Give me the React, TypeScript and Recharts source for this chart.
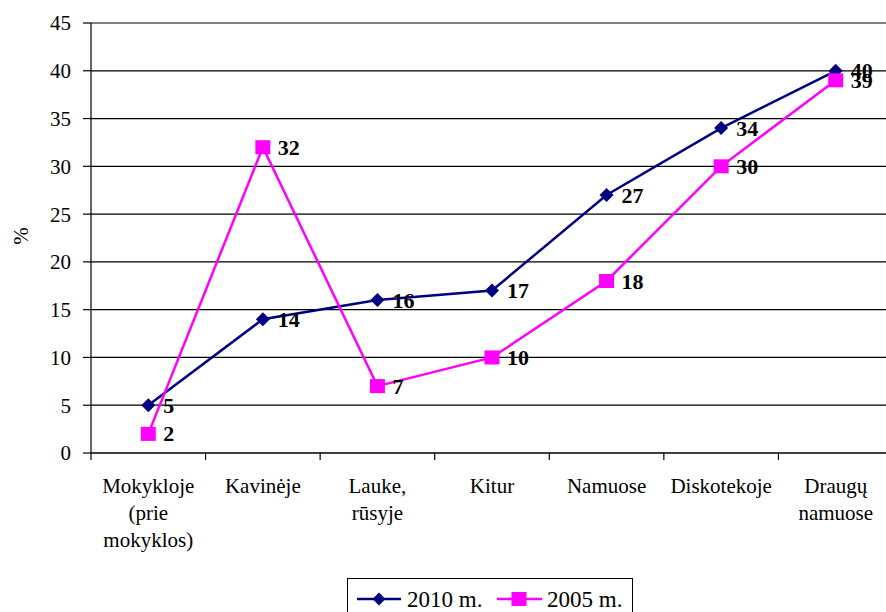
import { CartesianGrid, LabelList, Line, LineChart, XAxis, YAxis } from "recharts";

const categories = [
  "Mokykloje\n(prie\nmokyklos)",
  "Kavinėje",
  "Lauke,\nrūsyje",
  "Kitur",
  "Namuose",
  "Diskotekoje",
  "Draugų\nnamuose",
];
const values2010 = [5, 14, 16, 17, 27, 34, 40];
const values2005 = [2, 32, 7, 10, 18, 30, 39];
const yTicks = [0, 5, 10, 15, 20, 25, 30, 35, 40, 45];

const data = categories.map((cat, i) => ({ cat, y2010: values2010[i], y2005: values2005[i] }));

const NAVY = "#000080";
const MAGENTA = "#FF00FF";
const FONT = "Liberation Serif";

const CHART_W = 900;
const CHART_H = 612;
const MARGIN = { top: 23, right: 7, bottom: 0, left: 0 };
const Y_AXIS_W = 91;
const PLOT_W = CHART_W - MARGIN.right - MARGIN.left - Y_AXIS_W;

function Diamond({ cx, cy, r = 7 }: { cx: number; cy: number; r?: number }) {
  return <path d={`M${cx},${cy - r}L${cx + r},${cy}L${cx},${cy + r}L${cx - r},${cy}Z`} fill={NAVY} />;
}

function Square({ cx, cy, w = 15, h = 14 }: { cx: number; cy: number; w?: number; h?: number }) {
  return <rect x={cx - w / 2} y={cy - h / 2} width={w} height={h} fill={MAGENTA} />;
}

function CategoryTick(props: any) {
  const { x, y, payload, index, visibleTicksCount } = props;
  const half = payload?.offset > 0 ? payload.offset : PLOT_W / categories.length / 2;
  const lines = String(payload.value).split("\n");
  const isLast = index === (visibleTicksCount ?? categories.length) - 1;
  return (
    <g>
      <line x1={x - half} x2={x - half} y1={y} y2={y + 7} stroke="#000" strokeWidth={1.2} />
      {isLast && <line x1={x + half} x2={x + half} y1={y} y2={y + 7} stroke="#000" strokeWidth={1.2} />}
      <text x={x} y={y} textAnchor="middle" style={{ fontFamily: FONT, fontSize: 21 }} fill="#000">
        {lines.map((l, i) => (
          <tspan key={i} x={x} dy={i === 0 ? 40 : 27}>
            {l}
          </tspan>
        ))}
      </text>
    </g>
  );
}

function ValueLabel(props: any) {
  const { x, y, value } = props;
  return (
    <text
      x={x + 15}
      y={y}
      dominantBaseline="central"
      style={{ fontFamily: FONT, fontWeight: "bold", fontSize: 22 }}
      fill="#000"
    >
      {value}
    </text>
  );
}

function PercentLabel(props: any) {
  const vb = props.viewBox || { x: 0, y: MARGIN.top, height: 430 };
  const cx = vb.x + 21;
  const cy = vb.y + vb.height / 2 - 2;
  return (
    <text
      x={cx}
      y={cy}
      transform={`rotate(-90, ${cx}, ${cy})`}
      textAnchor="middle"
      dominantBaseline="central"
      style={{ fontFamily: FONT, fontSize: 21 }}
      fill="#000"
    >
      %
    </text>
  );
}

function LegendBox() {
  return (
    <div
      style={{
        position: "absolute",
        left: 347,
        top: 578,
        width: 286,
        height: 44,
        border: "1px solid #000",
        boxSizing: "border-box",
        background: "#fff",
      }}
    >
      <svg width={286} height={44} style={{ position: "absolute", left: -1, top: -1 }}>
        <line x1={10} x2={54} y1={21} y2={21} stroke={NAVY} strokeWidth={2.5} />
        <Diamond cx={32} cy={21} r={6.5} />
        <text x={60} y={21} dominantBaseline="central" style={{ fontFamily: FONT, fontSize: 23 }} fill="#000">
          2010 m.
        </text>
        <line x1={150} x2={195} y1={21} y2={21} stroke={MAGENTA} strokeWidth={2.5} />
        <Square cx={172} cy={21} w={15} h={14} />
        <text x={200} y={21} dominantBaseline="central" style={{ fontFamily: FONT, fontSize: 23 }} fill="#000">
          2005 m.
        </text>
      </svg>
    </div>
  );
}

export default function App() {
  return (
    <div
      style={{
        position: "fixed",
        left: 0,
        top: 0,
        width: 886,
        height: 612,
        overflow: "hidden",
        background: "#fff",
        fontFamily: FONT,
      }}
    >
      <LineChart width={CHART_W} height={CHART_H} data={data} margin={MARGIN}>
        <CartesianGrid vertical={false} stroke="#000" strokeWidth={1.2} />
        <XAxis
          dataKey="cat"
          scale="band"
          interval={0}
          height={CHART_H - 453}
          axisLine={{ stroke: "#000", strokeWidth: 1.2 }}
          tickLine={false}
          tickSize={0}
          tickMargin={0}
          tick={<CategoryTick />}
        />
        <YAxis
          width={Y_AXIS_W}
          domain={[0, 45]}
          ticks={yTicks}
          interval={0}
          axisLine={{ stroke: "#000", strokeWidth: 1.2 }}
          tickLine={{ stroke: "#000", strokeWidth: 1.2 }}
          tickSize={8}
          tickMargin={12}
          tick={{ fill: "#000", style: { fontFamily: FONT, fontSize: 21 } }}
          label={<PercentLabel />}
        />
        <Line
          dataKey="y2010"
          stroke={NAVY}
          strokeWidth={2.5}
          isAnimationActive={false}
          activeDot={false}
          dot={(p: any) => <Diamond key={`d-${p.index}`} cx={p.cx} cy={p.cy} />}
        >
          <LabelList dataKey="y2010" content={<ValueLabel />} />
        </Line>
        <Line
          dataKey="y2005"
          stroke={MAGENTA}
          strokeWidth={2.5}
          isAnimationActive={false}
          activeDot={false}
          dot={(p: any) => <Square key={`s-${p.index}`} cx={p.cx} cy={p.cy} />}
        >
          <LabelList dataKey="y2005" content={<ValueLabel />} />
        </Line>
      </LineChart>
      <LegendBox />
    </div>
  );
}
